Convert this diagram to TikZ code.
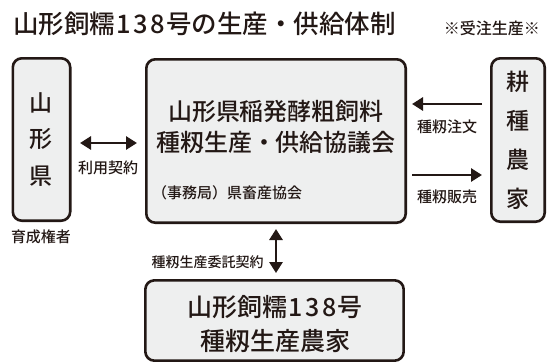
\documentclass[tikz,border=0pt]{standalone}
\usepackage{fontspec}
\setmainfont{Noto Sans CJK JP}[UprightFont=* Medium]
\usetikzlibrary{arrows.meta}
\definecolor{inkcol}{HTML}{231815}
\definecolor{boxgray}{HTML}{EEEFEF}
\newcommand\numbox[1]{\makebox[0.67em]{#1}}

\begin{document}
\begin{tikzpicture}[x=1pt,y=-1pt,
  box/.style={draw=inkcol,fill=boxgray,line width=2.6pt,rounded corners=9pt,inner sep=0pt,text=inkcol,align=center},
  arr/.style={draw=inkcol,line width=2.8pt,-{Triangle[length=11pt,width=13pt]}},
  dblarr/.style={draw=inkcol,line width=2.8pt,{Triangle[length=11pt,width=13pt]}-{Triangle[length=11pt,width=13pt]}},
  txt/.style={text=inkcol,inner sep=0pt,align=center}]
\useasboundingbox (0,0) rectangle (547,364);

% Title
\node[txt,anchor=west,font=\fontsize{25.5}{30}\selectfont] (title) at (13,24) {山形飼糯\numbox1\numbox3\numbox8号の生産・供給体制};
\node[txt,anchor=east,font=\fontsize{16}{20}\selectfont] (order) at (540,28) {※受注生産※};

% Boxes
\node[box,minimum width=57.4pt,minimum height=162.4pt,font=\fontsize{23}{36.5}\selectfont] (ken) at (41.5,139.5) {山\\形\\県};
\node[box,minimum width=259.4pt,minimum height=163.4pt] (kyo) at (276,141) {};
\node[box,minimum width=53.4pt,minimum height=163.4pt,font=\fontsize{23}{39}\selectfont] (farm) at (518,140) {耕\\種\\農\\家};
\node[box,minimum width=258.3pt,minimum height=80.3pt] (seisan) at (274.5,320.5) {};

% Box texts
\node[txt,font=\fontsize{24}{31}\selectfont] (kyoname) at (276,126.5) {山形県稲発酵粗飼料\\種籾生産・供給協議会};
\node[txt,anchor=west,font=\fontsize{15}{18}\selectfont] (jimu) at (152,193) {（事務局）県畜産協会};
\node[txt,font=\fontsize{25}{34}\selectfont] (seisanname) at (275,324) {山形飼糯\numbox1\numbox3\numbox8号\\種籾生産農家};

% Labels
\node[txt,font=\fontsize{15}{18}\selectfont] (ikusei) at (41,237) {育成権者};
\node[txt,font=\fontsize{15}{18}\selectfont] (riyou) at (108,168) {利用契約};
\node[txt,font=\fontsize{15}{18}\selectfont] (chumon) at (447,127) {種籾注文};
\node[txt,font=\fontsize{15}{18}\selectfont] (hanbai) at (447,197) {種籾販売};
\node[txt,font=\fontsize{14}{17}\selectfont] (itaku) at (207.5,262) {種籾生産委託契約};

% Arrows
\draw[dblarr,shorten <=8.5pt,shorten >=8pt] ([yshift=-3.5pt]ken.east) -- ([yshift=-3.5pt]ken.east -| kyo.west);
\draw[arr,shorten <=8pt,shorten >=5pt] ([yshift=36pt]farm.west) -- ([yshift=36pt]farm.west -| kyo.east);
\draw[arr,shorten <=5pt,shorten >=8pt] ([yshift=-35pt]farm.west -| kyo.east) -- ([yshift=-35pt]farm.west);
\draw[dblarr,shorten <=5pt,shorten >=6pt] (kyo.south) -- (kyo.south |- seisan.north);
\end{tikzpicture}
\end{document}
